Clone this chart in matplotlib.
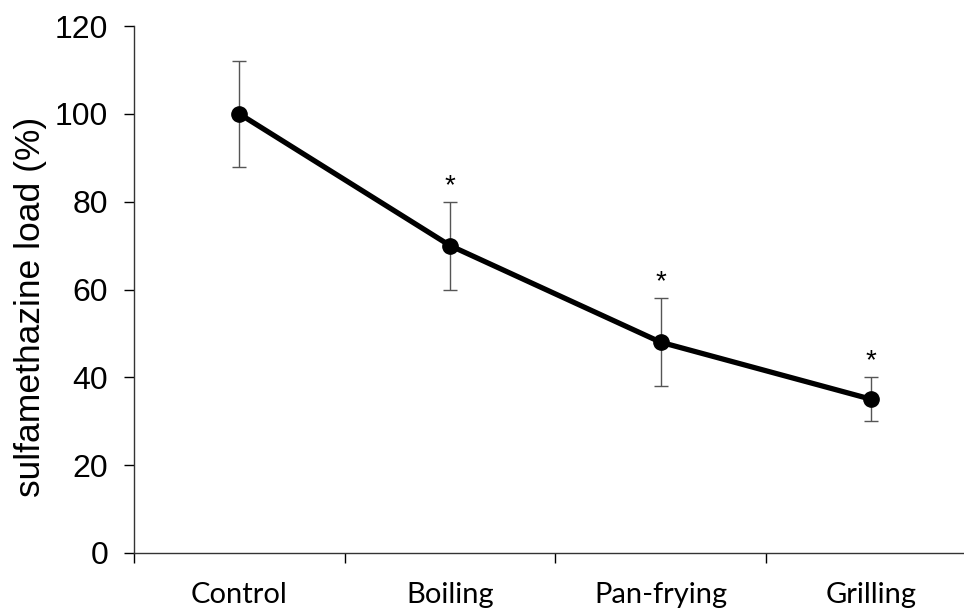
import matplotlib
matplotlib.use("Agg")
import matplotlib.pyplot as plt
import numpy as np

# data
categories = ["Control", "Boiling", "Pan-frying", "Grilling"]
load_pct = [100, 70, 48, 35]
err_pct = [12, 10, 10, 5]
significant = [False, True, True, True]

fig = plt.figure(figsize=(9.64, 6.09), dpi=100)
ax = fig.add_axes([134 / 964, 56 / 609, 1 - 134 / 964, 527 / 609])

x = np.arange(len(categories))
ax.errorbar(x, load_pct, yerr=err_pct, fmt="none", ecolor="#555555",
            elinewidth=1.0, capsize=5, capthick=1.0, zorder=2)
ax.plot(x, load_pct, color="black", lw=3.8, marker="o", markersize=11,
        zorder=3)

for xi, v, e, sig in zip(x, load_pct, err_pct, significant):
    if sig:
        ax.annotate("*", (xi, v + e), xytext=(0, 2), textcoords="offset points",
                    ha="center", va="bottom", fontsize=20,
                    family="Liberation Sans")

ax.set_ylim(0, 120)
ax.set_xlim(-0.5, 3.44)
ax.set_yticks(range(0, 121, 20))
ax.tick_params(axis="y", direction="out", length=7.5, width=1, pad=11,
               labelsize=23)
for lbl in ax.get_yticklabels():
    lbl.set_family("Liberation Sans")

# category boundaries as ticks, labels centred between them
ax.set_xticks(np.arange(-0.5, 3.5, 1.0))
ax.set_xticklabels([])
ax.set_xticks(x, minor=True)
ax.set_xticklabels(categories, minor=True, fontsize=21, family="Lato")
ax.tick_params(axis="x", which="major", direction="out", length=7, width=1)
ax.tick_params(axis="x", which="minor", length=0, pad=21)

ax.set_ylabel("sulfamethazine load (%)", fontsize=25.5,
              family="Liberation Sans")
ax.yaxis.set_label_coords(-103 / 830, 246 / 527)
ax.yaxis.label.set_va("center")

for side in ["top", "right"]:
    ax.spines[side].set_visible(False)
for side in ["left", "bottom"]:
    ax.spines[side].set_linewidth(1.0)
    ax.spines[side].set_color("#333333")

fig.savefig("out.png", dpi=100)
